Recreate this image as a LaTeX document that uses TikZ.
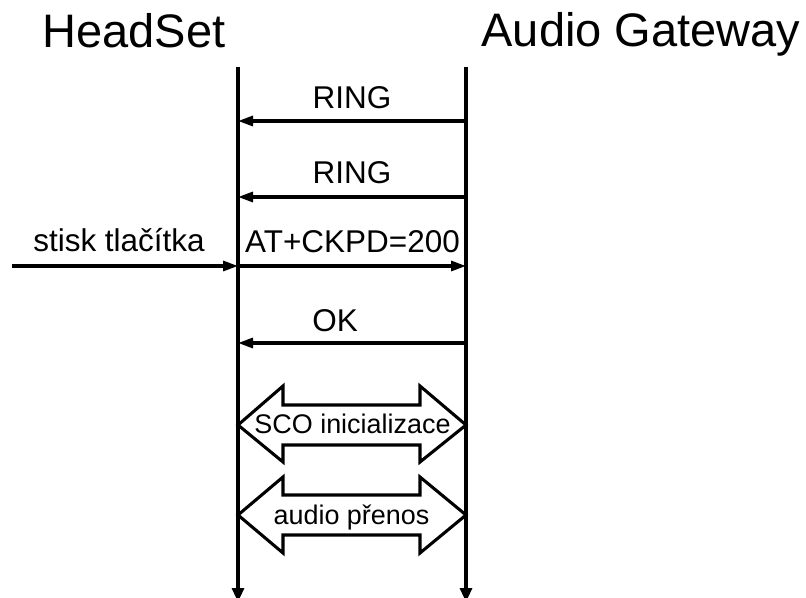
\documentclass[tikz,border=0pt]{standalone}
\usepackage{fontspec}
\setmainfont{Liberation Sans}
\usetikzlibrary{arrows.meta}
\begin{document}
\begin{tikzpicture}[x=0.75pt,y=-0.75pt,
  title/.style={anchor=base,inner sep=0pt,font=\fontsize{35.25}{40}\selectfont},
  msgtext/.style={anchor=base,inner sep=0pt,font=\fontsize{23.6}{28}\selectfont},
  boxtext/.style={anchor=base,inner sep=0pt,font=\fontsize{20.2}{24}\selectfont},
  lifeline/.style={line width=2.3pt,-{Triangle[length=10.5pt,width=9pt]}},
  msg/.style={line width=2.3pt,-{Triangle[length=11.25pt,width=7.5pt]}},
  bigarrow/.style={line width=2.3pt,line join=miter,fill=white,draw=black}]
\useasboundingbox (0,0) rectangle (806,598);

% participants
\node[title] (hs) at (134,48) {HeadSet};
\node[title] (ag) at (641,47) {Audio Gateway};

% lifelines
\coordinate (hsTop) at (238,67);
\coordinate (hsEnd) at (238,602);
\coordinate (agTop) at (466,67);
\coordinate (agEnd) at (466,602);
\draw[lifeline] (hsTop) -- (hsEnd);
\draw[lifeline] (agTop) -- (agEnd);

% message anchor points on the lifelines
\coordinate (hs1) at (238,121); \coordinate (ag1) at (466,121);
\coordinate (hs2) at (238,197); \coordinate (ag2) at (466,197);
\coordinate (hs3) at (238,266); \coordinate (ag3) at (466,266);
\coordinate (hs4) at (238,343); \coordinate (ag4) at (466,343);
\coordinate (btn) at (12,266);

% messages
\draw[msg] (ag1) -- (hs1);
\node[msgtext] (m1) at (352,109) {RING};
\draw[msg] (ag2) -- (hs2);
\node[msgtext] (m2) at (352,184) {RING};
\draw[msg] (btn) -- (hs3);
\node[msgtext] (press) at (119,252) {stisk tlačítka};
\draw[msg] (hs3) -- (ag3);
\node[msgtext] (m3) at (352.5,253) {AT+CKPD=200};
\draw[msg] (ag4) -- (hs4);
\node[msgtext] (m4) at (335,332) {OK};

% SCO link set-up (double arrow)
\draw[bigarrow] (238,425) -- (283,386) -- (283,405) -- (420,405) -- (420,386)
  -- (466,425) -- (420,462) -- (420,445) -- (283,445) -- (283,462) -- cycle;
\node[boxtext] (sco) at (352.5,433) {SCO inicializace};

% audio transfer (double arrow)
\draw[bigarrow] (238,515) -- (283,477) -- (283,495) -- (420,495) -- (420,477)
  -- (466,515) -- (420,553) -- (420,535) -- (283,535) -- (283,553) -- cycle;
\node[boxtext] (audio) at (351.5,524) {audio přenos};
\end{tikzpicture}
\end{document}
